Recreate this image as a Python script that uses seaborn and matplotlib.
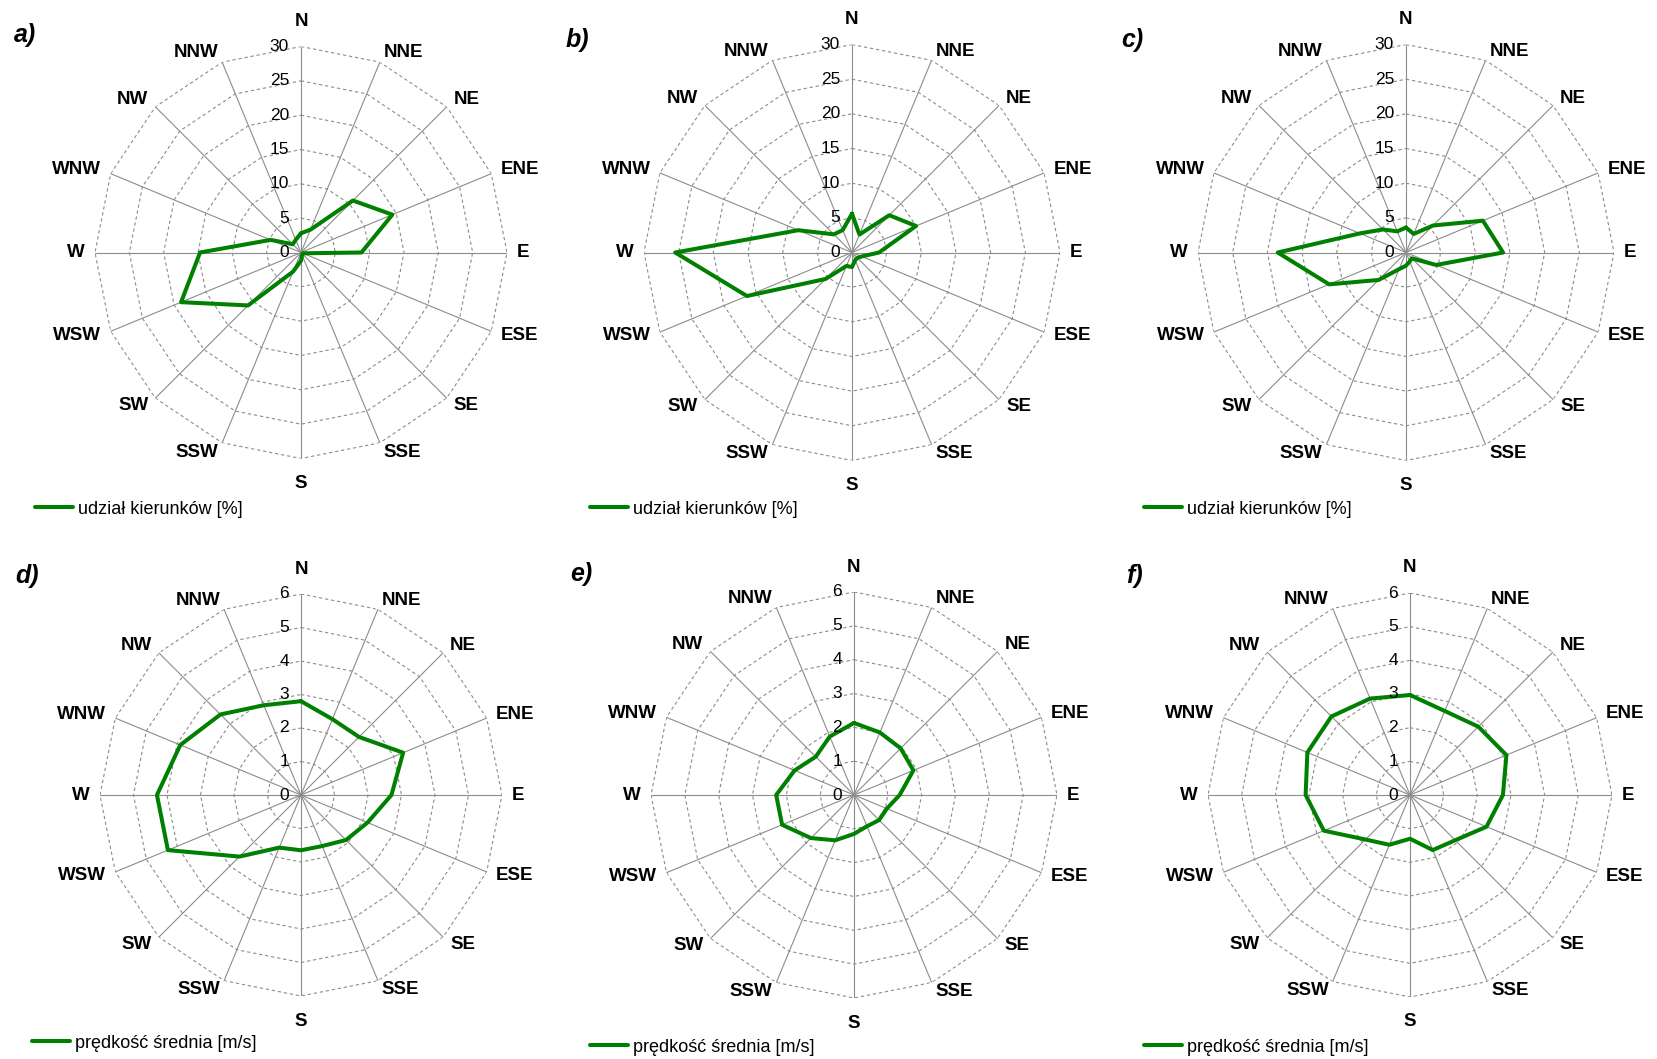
import numpy as np
import matplotlib
matplotlib.use("Agg")
import matplotlib.pyplot as plt
import seaborn as sns

kierunki = ["N", "NNE", "NE", "ENE", "E", "ESE", "SE", "SSE",
            "S", "SSW", "SW", "WSW", "W", "WNW", "NW", "NNW"]

# udzial kierunkow [%]
udzial_a = [2.8, 3.6, 10.7, 14.4, 8.8, 0.3, 0.3, 0.4, 1.2, 3.0, 10.9, 18.9, 14.7, 4.8, 1.7, 2.0]
udzial_b = [5.6, 2.8, 7.6, 10.0, 3.9, 1.5, 1.1, 1.2, 2.1, 2.1, 5.4, 16.4, 25.5, 8.4, 3.7, 3.5]
udzial_c = [3.6, 2.9, 5.5, 12.0, 14.0, 4.7, 1.2, 1.4, 1.9, 2.6, 5.6, 12.0, 18.5, 7.2, 4.7, 3.3]

# predkosc srednia [m/s]
predkosc_d = [2.8, 2.45, 2.45, 3.3, 2.7, 2.15, 1.9, 1.65, 1.65, 1.7, 2.6, 4.3, 4.3, 3.9, 3.4, 2.9]
predkosc_e = [2.13, 2.0, 1.95, 1.9, 1.35, 1.05, 1.05, 1.0, 1.15, 1.45, 1.8, 2.3, 2.3, 1.9, 1.6, 1.87]
predkosc_f = [2.97, 2.7, 2.87, 3.1, 2.76, 2.46, 1.9, 1.77, 1.3, 1.6, 1.87, 2.77, 3.1, 3.3, 3.3, 3.1]

sns.set_style("white")
plt.rcParams['font.family'] = ['Liberation Sans', 'DejaVu Sans']
plt.rcParams['text.color'] = 'black'

W, H = 1657, 1059
GREEN = '#008000'
GRID = '#8c8c8c'

theta = np.deg2rad(np.arange(16) * 22.5)
theta_closed = np.append(theta, 2 * np.pi)

fig = plt.figure(figsize=(W / 100, H / 100), dpi=100)


def rose(center, radius, values, rmax, step, letter, letter_xy, label, legend_xy):
    cx, cy = center
    ax = fig.add_axes([(cx - radius) / W, (H - cy - radius) / H, 2 * radius / W, 2 * radius / H],
                      projection='polar')
    ax.set_theta_zero_location('N')
    ax.set_theta_direction(-1)
    ax.grid(False)
    ax.spines['polar'].set_visible(False)
    ax.patch.set_alpha(0)

    # polygon grid + spokes
    for lvl in np.arange(step, rmax + step / 2, step):
        ax.plot(theta_closed, np.full(len(theta_closed), lvl), color=GRID, lw=0.8,
                ls=(0, (3, 2.5)), zorder=1)
    for t in theta:
        ax.plot([t, t], [0, rmax], color=GRID, lw=0.8, zorder=1)

    vals = np.append(values, values[0])
    sns.lineplot(x=theta_closed, y=vals, sort=False, estimator=None, ax=ax,
                 color=GREEN, lw=2.9, label=label, zorder=3)

    ax.set_ylim(0, rmax)
    ax.set_xticks([])
    ax.set_yticks([])
    ax.set_xlabel("")
    ax.set_ylabel("")

    for lvl in np.arange(0, rmax + step / 2, step):
        ax.annotate(f"{lvl:g}", xy=(0, lvl), xytext=(-12, 0), textcoords='offset pixels',
                    ha='right', va='center', fontsize=12.5, annotation_clip=False)

    for t, name in zip(theta, kierunki):
        s, c = np.sin(t), np.cos(t)
        if abs(s) < 0.01:
            off, ha = 25, 'center'
        else:
            off, ha = 10, ('left' if s > 0 else 'right')
        ax.annotate(name, xy=(t, rmax), xytext=(off * s, off * c), textcoords='offset pixels',
                    ha=ha, va='center', fontsize=13.5, fontweight='bold', annotation_clip=False)

    ax.legend(loc='center left', bbox_to_anchor=(legend_xy[0] / W, 1 - legend_xy[1] / H),
              bbox_transform=fig.transFigure, frameon=False, fontsize=13,
              handlelength=2.1, handletextpad=0.3, borderpad=0, borderaxespad=0,
              labelcolor='black')

    fig.text(letter_xy[0] / W, 1 - letter_xy[1] / H, letter, fontsize=18,
             fontweight='bold', fontstyle='italic', ha='left', va='center')


lab_u = "udział kierunków [%]"
lab_p = "prędkość średnia [m/s]"

rose((301, 252.5), 206, udzial_a, 30, 5, "a)", (14, 35), lab_u, (35, 509))
rose((852, 252.5), 208, udzial_b, 30, 5, "b)", (566, 40), lab_u, (590, 509))
rose((1406, 252.5), 208, udzial_c, 30, 5, "c)", (1121, 40), lab_u, (1144, 509))
rose((301, 795), 201, predkosc_d, 6, 1, "d)", (15, 576), lab_p, (32, 1043))
rose((854, 795), 203, predkosc_e, 6, 1, "e)", (570, 574), lab_p, (590, 1047))
rose((1410, 795), 202, predkosc_f, 6, 1, "f)", (1126, 576), lab_p, (1144, 1047))

fig.savefig("out.png", dpi=100, facecolor='white')
